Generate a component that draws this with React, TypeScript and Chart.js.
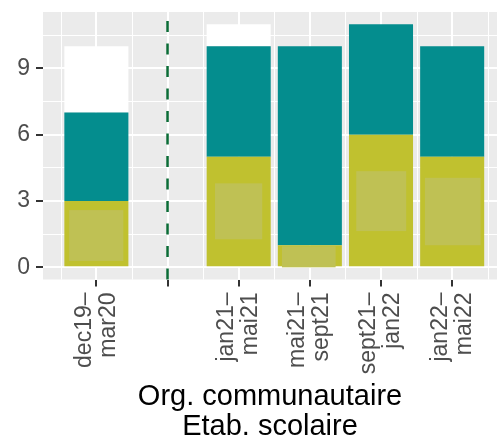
import React, { useEffect, useRef } from 'react';
import { Chart, registerables } from 'chart.js';

Chart.register(...registerables);

// Categories (second slot is an empty separator position)
const labelLine1 = ['dec19–', '', 'jan21–', 'mai21–', 'sept21–', 'jan22–'];
const labelLine2 = ['mar20', '', 'mai21', 'sept21', 'jan22', 'mai22'];

// Stacked series values (bottom -> top)
const lowerValues = [3, null, 5, 1, 6, 5];
const middleValues = [4, null, 5, 9, 5, 5];
const upperValues = [3, null, 1, 0, 0, 0];

// Lighter overlay rectangles inside the lower bars (data units)
const overlayLeft = [0.617, null, 2.667, 3.608, 4.652, 5.617];
const overlayRight = [1.379, null, 3.331, 4.362, 5.354, 6.399];
const overlayLow = [0.29, null, 1.27, 0, 1.64, 1.0];
const overlayHigh = [2.59, null, 3.8, 0.95, 4.35, 4.05];

// Position of the dashed divider (category number)
const dividerCategory = 2;

// Axis ticks
const yTicks = [0, 1.5, 3, 4.5, 6, 7.5, 9, 10.5];
const yTickLabels = [0, 3, 6, 9];
const axisTitle = ['Org. communautaire', 'Etab. scolaire'];

const COLORS = {
  panel: '#EBEBEB',
  grid: '#FFFFFF',
  tick: '#333333',
  tickText: '#4D4D4D',
  lower: '#C0C12F',
  middle: '#048D8E',
  upper: '#FFFFFF',
  overlay: '#BFC154',
  divider: '#0B6C36',
};

const toPoints = (vals: (number | null)[]) =>
  vals
    .map((v, i) => (v === null ? null : { x: i + 1, y: v }))
    .filter((p) => p !== null) as { x: number; y: number }[];

const panelPlugin = {
  id: 'panelPlugin',
  beforeDraw(chart: any) {
    const { ctx, chartArea: a } = chart;
    ctx.save();
    ctx.fillStyle = COLORS.panel;
    ctx.fillRect(a.left, a.top, a.right - a.left, a.bottom - a.top);
    ctx.restore();
  },
  beforeDatasetsDraw(chart: any) {
    const { ctx, chartArea: a } = chart;
    const xs = chart.scales.x;
    ctx.save();
    // minor vertical gridlines
    ctx.strokeStyle = COLORS.grid;
    ctx.lineWidth = 1;
    for (let v = 0.5; v <= xs.max; v += 1) {
      if (v < xs.min) continue;
      const px = Math.round(xs.getPixelForValue(v)) + 0.5;
      ctx.beginPath();
      ctx.moveTo(px, a.top);
      ctx.lineTo(px, a.bottom);
      ctx.stroke();
    }
    // dashed divider
    const dx = xs.getPixelForValue(dividerCategory);
    ctx.strokeStyle = COLORS.divider;
    ctx.lineWidth = 2.5;
    ctx.setLineDash([11, 11.5]);
    ctx.beginPath();
    ctx.moveTo(dx, a.bottom);
    ctx.lineTo(dx, a.top);
    ctx.stroke();
    ctx.restore();
  },
  afterDatasetsDraw(chart: any) {
    const { ctx } = chart;
    const xs = chart.scales.x;
    const ys = chart.scales.y;
    ctx.save();
    ctx.fillStyle = COLORS.overlay;
    for (let i = 0; i < overlayLeft.length; i++) {
      const l = overlayLeft[i];
      const r = overlayRight[i];
      const lo = overlayLow[i];
      const hi = overlayHigh[i];
      if (l === null || r === null || lo === null || hi === null) continue;
      const x1 = xs.getPixelForValue(l);
      const x2 = xs.getPixelForValue(r);
      const y1 = ys.getPixelForValue(hi);
      const y2 = ys.getPixelForValue(lo);
      ctx.fillRect(x1, y1, x2 - x1, y2 - y1);
    }
    ctx.restore();
  },
};

export default function App() {
  const ref = useRef<HTMLCanvasElement>(null);

  useEffect(() => {
    Chart.defaults.font.family = "'Liberation Sans', Arial, Helvetica, sans-serif";
    const barCommon = {
      barPercentage: 1,
      categoryPercentage: 0.9,
      borderWidth: 0,
    };
    const chart = new Chart(ref.current as HTMLCanvasElement, {
      type: 'bar',
      data: {
        datasets: [
          { ...barCommon, label: 'lower', data: toPoints(lowerValues), backgroundColor: COLORS.lower },
          { ...barCommon, label: 'middle', data: toPoints(middleValues), backgroundColor: COLORS.middle },
          { ...barCommon, label: 'upper', data: toPoints(upperValues), backgroundColor: COLORS.upper },
        ],
      },
      options: {
        animation: false,
        responsive: false,
        devicePixelRatio: 1,
        layout: { padding: { top: 12, right: 1, left: 0, bottom: 0 } },
        plugins: {
          legend: { display: false },
          tooltip: { enabled: false },
        },
        scales: {
          x: {
            type: 'linear',
            min: 0.25,
            max: 6.63,
            offset: false,
            stacked: true,
            afterBuildTicks: (s: any) => {
              s.ticks = labelLine1.map((_, i) => ({ value: i + 1 }));
            },
            afterFit: (s: any) => {
              s.height = 162.5;
              s.paddingLeft = 0;
              s.paddingRight = 0;
            },
            border: { display: false },
            grid: {
              offset: false,
              color: COLORS.grid,
              lineWidth: 2,
              drawTicks: true,
              tickLength: 7,
              tickWidth: 2,
              tickColor: COLORS.tick,
            },
            ticks: {
              autoSkip: false,
              minRotation: 90,
              maxRotation: 90,
              padding: 6,
              labelOffset: -12,
              color: COLORS.tickText,
              font: { size: 23, lineHeight: 24 / 23 },
              callback: (v: any) => {
                const i = Math.round(Number(v)) - 1;
                const a = labelLine1[i];
                if (!a) return '';
                return [a, labelLine2[i]];
              },
            },
            title: {
              display: true,
              text: axisTitle,
              color: '#000000',
              font: { size: 29, lineHeight: 30 / 29 },
              padding: { top: 0, bottom: 0 },
            },
          },
          y: {
            type: 'linear',
            min: -0.55,
            max: 11.55,
            stacked: true,
            afterBuildTicks: (s: any) => {
              s.ticks = yTicks.map((v) => ({ value: v }));
            },
            afterFit: (s: any) => {
              s.width = 43;
              s.paddingTop = 0;
              s.paddingBottom = 0;
            },
            border: { display: false },
            grid: {
              color: COLORS.grid,
              lineWidth: (c: any) => (yTickLabels.includes(c.tick?.value) ? 2 : 1),
              drawTicks: true,
              tickLength: 7,
              tickWidth: 2,
              tickColor: (c: any) => (yTickLabels.includes(c.tick?.value) ? COLORS.tick : 'rgba(0,0,0,0)'),
            },
            ticks: {
              padding: 6,
              color: COLORS.tickText,
              font: { size: 23 },
              callback: (v: any) => (yTickLabels.includes(Number(v)) ? String(v) : ''),
            },
          },
        },
      },
      plugins: [panelPlugin],
    } as any);
    return () => chart.destroy();
  }, []);

  return (
    <div style={{ position: 'absolute', left: 0, top: 0, width: 498, height: 442, background: '#FFFFFF' }}>
      <canvas ref={ref} width={498} height={442} style={{ display: 'block' }} />
    </div>
  );
}
